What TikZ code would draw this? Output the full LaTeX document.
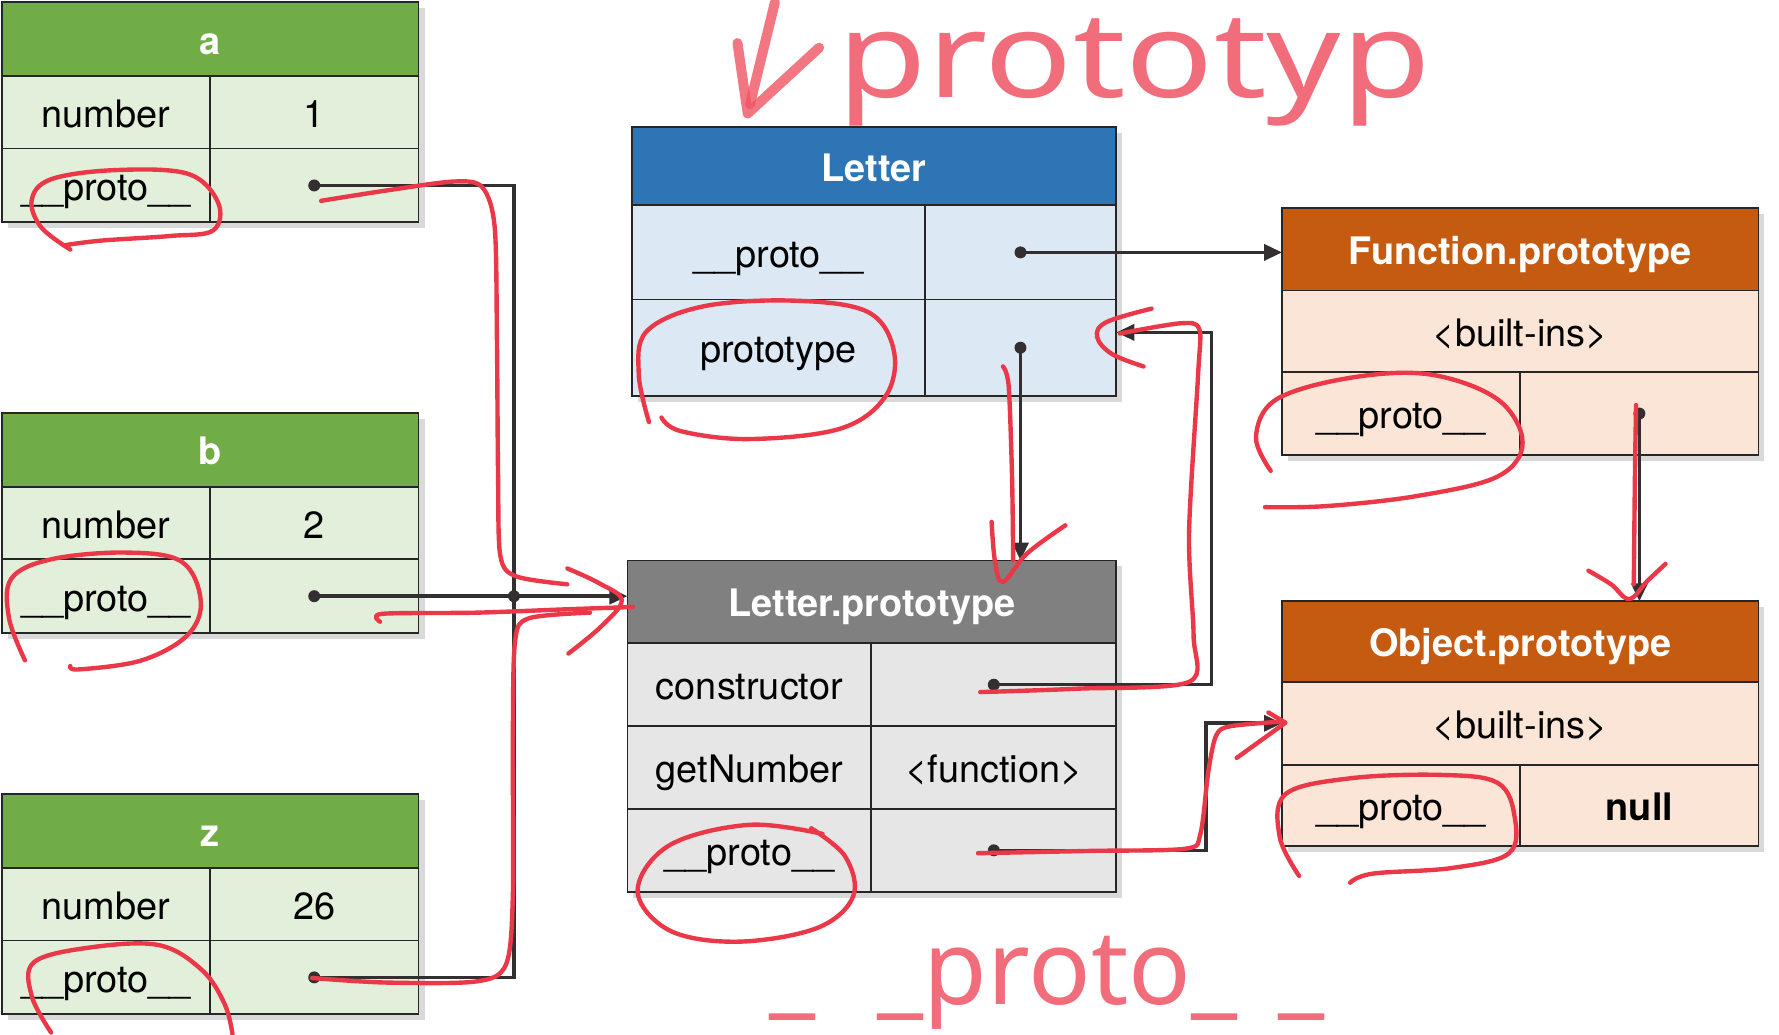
\documentclass[tikz,border=0pt]{standalone}
\usepackage{fontspec}
\setmainfont{TeX Gyre Heros}
\newfontfamily\handfont{Noto Sans}
\usetikzlibrary{arrows.meta,shadows}

\definecolor{grnHd}{RGB}{112,173,71}
\definecolor{grnBg}{RGB}{226,239,218}
\definecolor{bluHd}{RGB}{46,117,182}
\definecolor{bluBg}{RGB}{221,232,245}
\definecolor{gryHd}{RGB}{128,128,128}
\definecolor{gryBg}{RGB}{231,230,231}
\definecolor{orgHd}{RGB}{197,90,17}
\definecolor{orgBg}{RGB}{251,229,214}
\definecolor{lnk}{RGB}{51,47,48}
\definecolor{redPen}{RGB}{234,56,72}
\definecolor{inkRed}{RGB}{240,84,100}

\tikzset{
  cell/.style={draw=black!85, line width=0.9pt, rectangle, inner sep=0pt, outer sep=0pt,
    anchor=north west, text height=16.8pt, text depth=1.7pt,
    font=\fontsize{19}{22}\selectfont,
    drop shadow={opacity=0.3, shadow xshift=3pt, shadow yshift=-3pt}},
  hdr/.style={cell, text=white, font=\fontsize{19}{22}\selectfont\bfseries},
  gkey/.style={cell, fill=grnBg, minimum width=3.66cm},
  gval/.style={cell, fill=grnBg, minimum width=3.68cm},
  wire/.style={draw=lnk, line width=1.8pt},
  ptr/.style={wire, -{Triangle[length=9pt,width=8pt]}},
  redline/.style={draw=redPen, line width=2.2pt, line cap=round, line join=round},
  inkline/.style={draw=inkRed, line width=5pt, line cap=round, line join=round, opacity=0.8}
}

\begin{document}
\begin{tikzpicture}[x=0.02cm,y=-0.02cm]
\useasboundingbox (0,0) rectangle (1568,912);

% objects a, b, z
\node (a) [hdr, fill=grnHd, minimum width=7.34cm, minimum height=1.3cm] at (2,2) {a};
\node (aNum) [gkey, minimum height=1.28cm] at (a.south west) {number};
\node (aNumV) [gval, minimum height=1.28cm] at (aNum.north east) {1};
\node (aPro) [gkey, minimum height=1.3cm] at (aNum.south west) {\_\_proto\_\_};
\node (aProV) [gval, minimum height=1.3cm] at (aPro.north east) {};

\node (b) [hdr, fill=grnHd, minimum width=7.34cm, minimum height=1.3cm] at (2,364) {b};
\node (bNum) [gkey, minimum height=1.28cm] at (b.south west) {number};
\node (bNumV) [gval, minimum height=1.28cm] at (bNum.north east) {2};
\node (bPro) [gkey, minimum height=1.3cm] at (bNum.south west) {\_\_proto\_\_};
\node (bProV) [gval, minimum height=1.3cm] at (bPro.north east) {};

\node (z) [hdr, fill=grnHd, minimum width=7.34cm, minimum height=1.3cm] at (2,700) {z};
\node (zNum) [gkey, minimum height=1.28cm] at (z.south west) {number};
\node (zNumV) [gval, minimum height=1.28cm] at (zNum.north east) {26};
\node (zPro) [gkey, minimum height=1.3cm] at (zNum.south west) {\_\_proto\_\_};
\node (zProV) [gval, minimum height=1.3cm] at (zPro.north east) {};

% Letter
\node (L) [hdr, fill=bluHd, minimum width=8.54cm, minimum height=1.38cm] at (557,112) {Letter};
\node (lPro) [cell, fill=bluBg, minimum width=5.16cm, minimum height=1.66cm] at (L.south west) {\_\_proto\_\_};
\node (lProV) [cell, fill=bluBg, minimum width=3.38cm, minimum height=1.66cm] at (lPro.north east) {};
\node (lTyp) [cell, fill=bluBg, minimum width=5.16cm, minimum height=1.7cm] at (lPro.south west) {prototype};
\node (lTypV) [cell, fill=bluBg, minimum width=3.38cm, minimum height=1.7cm] at (lTyp.north east) {};

% Letter.prototype
\node (LP) [hdr, fill=gryHd, minimum width=8.62cm, minimum height=1.46cm] at (553,494) {Letter.prototype};
\node (cK) [cell, fill=gryBg, minimum width=4.3cm, minimum height=1.46cm] at (LP.south west) {constructor};
\node (cV) [cell, fill=gryBg, minimum width=4.32cm, minimum height=1.46cm] at (cK.north east) {};
\node (gK) [cell, fill=gryBg, minimum width=4.3cm, minimum height=1.46cm] at (cK.south west) {getNumber};
\node (gV) [cell, fill=gryBg, minimum width=4.32cm, minimum height=1.46cm] at (gK.north east) {\textless function\textgreater};
\node (pK) [cell, fill=gryBg, minimum width=4.3cm, minimum height=1.46cm] at (gK.south west) {\_\_proto\_\_};
\node (pV) [cell, fill=gryBg, minimum width=4.32cm, minimum height=1.46cm] at (pK.north east) {};

% Function.prototype
\node (FP) [hdr, fill=orgHd, minimum width=8.4cm, minimum height=1.46cm] at (1130,183) {Function.prototype};
\node (fB) [cell, fill=orgBg, minimum width=8.4cm, minimum height=1.44cm] at (FP.south west) {\textless built-ins\textgreater};
\node (fPro) [cell, fill=orgBg, minimum width=4.2cm, minimum height=1.46cm] at (fB.south west) {\_\_proto\_\_};
\node (fProV) [cell, fill=orgBg, minimum width=4.2cm, minimum height=1.46cm] at (fPro.north east) {};

% Object.prototype
\node (OP) [hdr, fill=orgHd, minimum width=8.4cm, minimum height=1.42cm] at (1130,530) {Object.prototype};
\node (oB) [cell, fill=orgBg, minimum width=8.4cm, minimum height=1.46cm] at (OP.south west) {\textless built-ins\textgreater};
\node (oPro) [cell, fill=orgBg, minimum width=4.2cm, minimum height=1.44cm] at (oB.south west) {\_\_proto\_\_};
\node (oNull) [cell, fill=orgBg, minimum width=4.2cm, minimum height=1.44cm] at (oPro.north east) {\textbf{null}};

% pointers
\coordinate (jn) at (453,525.5);
\draw [wire] (aProV.center) -| (jn);
\draw [wire] (zProV.center) -| (jn);
\draw [ptr] (bProV.center) -- (bProV.center -| LP.west);
\draw [ptr] (lProV.center) -- (lProV.center -| FP.west);
\draw [ptr] (lTypV.center) -- (lTypV.center |- LP.north);
\draw [ptr] (cV.center) -| ([xshift=1.68cm,yshift=0.27cm]lTypV.east) -- ([yshift=0.27cm]lTypV.east);
\draw [ptr] (pV.center) -| ([xshift=-1.34cm]oB.west) -- (oB.west);
\draw [ptr] (fProV.center) -- (fProV.center |- OP.north);
\fill [lnk] (jn) circle (3pt);
\foreach \d in {aProV,bProV,zProV,lProV,lTypV,cV,pV,fProV}
  \fill [lnk] (\d.center) circle (3pt);

% red pen: rings
\draw [redline] plot [smooth, tension=0.6] coordinates {(62,220) (36,200) (28,176) (45,158) (100,150) (165,153) (192,178) (188,203) (150,208) (90,212) (58,216)};
\draw [redline] plot [smooth, tension=0.6] coordinates {(22,582) (8,545) (10,510) (45,493) (110,487) (160,495) (177,530) (165,560) (125,582) (70,590) (62,587)};
\draw [redline] plot [smooth, tension=0.6] coordinates {(45,910) (28,878) (30,848) (80,835) (140,833) (178,855) (198,885) (205,912)};
\draw [redline] plot [smooth, tension=0.6] coordinates {(572,372) (563,330) (570,292) (620,270) (700,265) (765,275) (788,310) (780,350) (740,378) (660,387) (600,380) (583,368)};
\draw [redline] plot [smooth, tension=0.6] coordinates {(725,735) (660,727) (590,745) (562,785) (590,820) (650,830) (720,818) (752,790) (745,755) (715,730)};
\draw [redline] plot [smooth, tension=0.6] coordinates {(1120,415) (1107,385) (1125,352) (1190,333) (1260,330) (1320,352) (1342,390) (1320,420) (1250,437) (1170,446) (1115,447)};
\draw [redline] plot [smooth, tension=0.6] coordinates {(1145,772) (1128,738) (1133,700) (1190,686) (1270,683) (1320,690) (1335,720) (1330,752) (1280,765) (1210,770) (1190,778)};

% red pen: traced pointers
\draw [redline] plot [smooth, tension=0.5] coordinates {(283,177) (340,168) (400,160) (425,165) (436,200) (438,300) (439,420) (441,490) (455,508) (500,515)};
\draw [redline] plot [smooth, tension=0.5] coordinates {(335,548) (337,541) (420,540) (500,537) (558,535)};
\draw [redline] plot [smooth, tension=0.5] coordinates {(275,862) (340,866) (420,865) (446,850) (452,790) (452,650) (454,565) (466,545) (520,540)};
\draw [redline] plot [smooth, tension=0.6] coordinates {(500,501) (528,514) (548,529) (530,552) (501,576)};
\draw [redline] plot [smooth, tension=0.5] coordinates {(884,323) (889,340) (892,420) (893,494)};
\draw [redline] plot [smooth, tension=0.6] coordinates {(874,460) (877,495) (884,513) (905,488) (939,463)};
\draw [redline] plot [smooth, tension=0.5] coordinates {(864,610) (950,607) (1048,601) (1052,560) (1048,470) (1056,330) (1057,290) (1040,285) (987,294)};
\draw [redline] plot [smooth, tension=0.6] coordinates {(1015,272) (975,284) (967,297) (980,312) (1008,323)};
\draw [redline] plot [smooth, tension=0.5] coordinates {(862,752) (960,750) (1045,748) (1058,735) (1065,680) (1072,648) (1085,640) (1130,636)};
\draw [redline] (1090,668) -- (1133,637) -- (1118,628);
\draw [redline] plot [smooth, tension=0.5] coordinates {(1442,357) (1441,420) (1440,515)};
\draw [redline] plot [smooth, tension=0.6] coordinates {(1400,503) (1420,515) (1436,528) (1452,512) (1468,497)};

% red pen: words
\draw [inkline] (650,38) -- (659,100) -- (722,42);
\draw [inkline] (683,2) -- (661,92);
\node (wTop) [anchor=base west, inner sep=0pt, text=inkRed, opacity=0.85, font=\handfont\fontsize{60}{64}\selectfont] at (738,86) {\scalebox{1.22}[1]{prototyp}};
\node (wBot) [anchor=base, text=inkRed, opacity=0.85, font=\handfont\fontsize{52}{56}\selectfont] at (923,885) {\_\hspace{0.6em}\_proto\_\hspace{0.4em}\_};
\end{tikzpicture}
\end{document}
